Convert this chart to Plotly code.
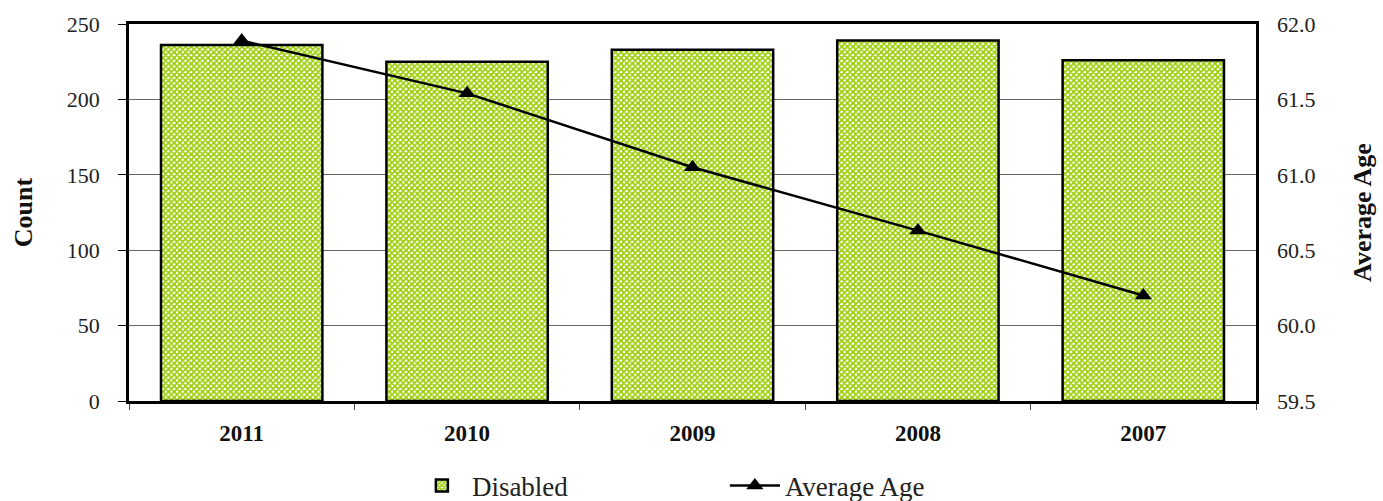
import plotly.graph_objects as go

years = ["2011", "2010", "2009", "2008", "2007"]
disabled = [236, 225, 233, 239, 226]
avg_age = [61.89, 61.54, 61.05, 60.63, 60.20]

count_ticks = [0, 50, 100, 150, 200, 250]
age_ticks = [59.5, 60.0, 60.5, 61.0, 61.5, 62.0]

FONT = "'Liberation Serif', 'Times New Roman', serif"
TEXT = "#222"

fig = go.Figure()

fig.add_trace(go.Bar(
    x=years, y=disabled, name="Disabled",
    width=0.716,
    marker=dict(
        color="white",
        line=dict(color="black", width=2.5),
        pattern=dict(shape="x", size=4, solidity=0.65,
                     fgcolor="#99cc00", bgcolor="white", fillmode="replace"),
    ),
))

fig.add_trace(go.Scatter(
    x=years, y=avg_age, name="Average Age", yaxis="y2",
    mode="lines+markers",
    line=dict(color="black", width=2.5),
    marker=dict(symbol="triangle-up", size=15, color="black"),
))

fig.update_layout(
    width=1383, height=501,
    margin=dict(l=129, r=127, t=24, b=100, autoexpand=False),
    plot_bgcolor="white", paper_bgcolor="white",
    font=dict(family=FONT, size=22, color=TEXT),
    showlegend=True,
    legend=dict(orientation="h", x=0.251, xanchor="left", y=-0.225, yanchor="middle",
                font=dict(family=FONT, size=27, color=TEXT), entrywidth=248,
                itemwidth=50, traceorder="normal"),
    xaxis=dict(
        type="category",
        showline=True, linecolor="black", linewidth=2.5, mirror=True,
        ticks="outside", tickson="boundaries", ticklen=6, tickcolor="#444",
        ticklabelstandoff=10,
        tickfont=dict(family=FONT, size=23, color="#111", weight="bold"),
        showgrid=False,
    ),
    yaxis=dict(
        range=[0, 250], tickvals=count_ticks,
        tickfont=dict(family=FONT, size=22, color=TEXT),
        showline=True, linecolor="black", linewidth=2.5, mirror=True,
        ticks="outside", ticklen=8, tickcolor="black",
        ticklabelstandoff=14,
        showgrid=True, gridcolor="#666", gridwidth=1,
        title=dict(text="<b>Count</b>", font=dict(family=FONT, size=26, color="#111"),
                   standoff=27),
        zeroline=False,
    ),
    yaxis2=dict(
        overlaying="y", side="right",
        range=[59.5, 62.0], tickvals=age_ticks, tickformat=".1f",
        tickfont=dict(family=FONT, size=22, color=TEXT),
        showgrid=False, showline=False, ticks="", zeroline=False,
        ticklabelstandoff=20,
        title=dict(text="<b>Average Age</b>", font=dict(family=FONT, size=26, color="#111"),
                   standoff=38),
    ),
)

fig.write_html("out.html")
